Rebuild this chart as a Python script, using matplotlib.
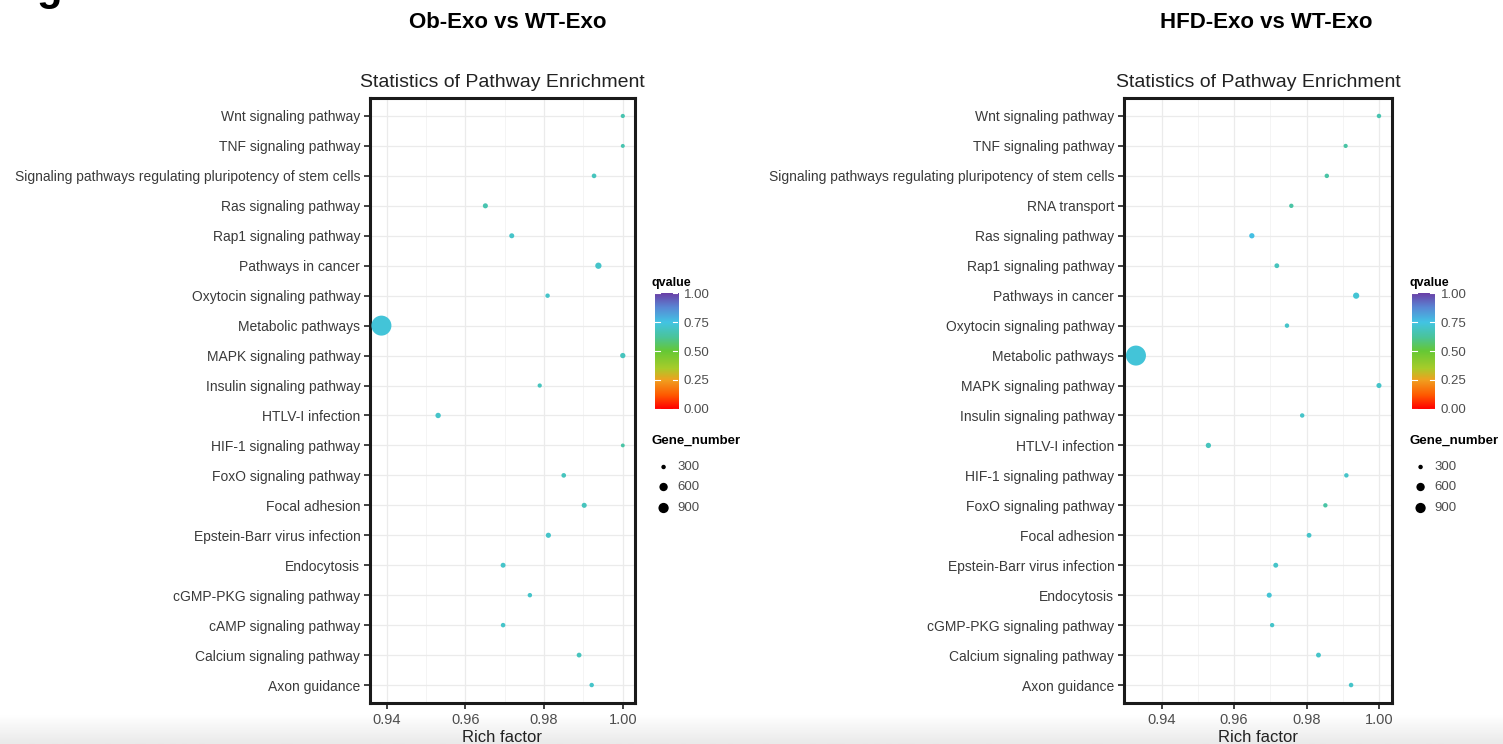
import numpy as np
import matplotlib
matplotlib.use("Agg")
import matplotlib.pyplot as plt
from matplotlib.colors import LinearSegmentedColormap, Normalize

plt.rcParams['font.family'] = ['Liberation Sans', 'DejaVu Sans']

# ---- data (top row first) ----
paths_ob = ["Wnt signaling pathway", "TNF signaling pathway",
            "Signaling pathways regulating pluripotency of stem cells",
            "Ras signaling pathway", "Rap1 signaling pathway", "Pathways in cancer",
            "Oxytocin signaling pathway", "Metabolic pathways", "MAPK signaling pathway",
            "Insulin signaling pathway", "HTLV-I infection", "HIF-1 signaling pathway",
            "FoxO signaling pathway", "Focal adhesion", "Epstein-Barr virus infection",
            "Endocytosis", "cGMP-PKG signaling pathway", "cAMP signaling pathway",
            "Calcium signaling pathway", "Axon guidance"]
rich_ob = [1.000, 1.000, 0.9927, 0.9651, 0.9718, 0.9938, 0.9809, 0.9387, 1.000, 0.9789,
           0.9531, 1.000, 0.9850, 0.9902, 0.9811, 0.9696, 0.9764, 0.9696, 0.9889, 0.9921]
genes_ob = [295, 292, 305, 320, 318, 390, 300, 4000, 330, 296,
            335, 291, 305, 320, 325, 315, 300, 302, 310, 300]
qval_ob = [0.66, 0.66, 0.68, 0.66, 0.70, 0.70, 0.70, 0.73, 0.68, 0.68,
           0.70, 0.64, 0.68, 0.68, 0.70, 0.70, 0.70, 0.70, 0.68, 0.70]

paths_hfd = ["Wnt signaling pathway", "TNF signaling pathway",
             "Signaling pathways regulating pluripotency of stem cells",
             "RNA transport", "Ras signaling pathway", "Rap1 signaling pathway",
             "Pathways in cancer", "Oxytocin signaling pathway", "Metabolic pathways",
             "MAPK signaling pathway", "Insulin signaling pathway", "HTLV-I infection",
             "HIF-1 signaling pathway", "FoxO signaling pathway", "Focal adhesion",
             "Epstein-Barr virus infection", "Endocytosis", "cGMP-PKG signaling pathway",
             "Calcium signaling pathway", "Axon guidance"]
rich_hfd = [1.000, 0.9908, 0.9856, 0.9758, 0.9649, 0.9718, 0.9937, 0.9746, 0.9329, 1.000,
            0.9788, 0.9529, 0.9910, 0.9852, 0.9807, 0.9715, 0.9697, 0.9705, 0.9833, 0.9923]
genes_hfd = [300, 295, 300, 298, 330, 310, 385, 300, 4000, 320,
             300, 330, 300, 298, 310, 315, 320, 298, 312, 302]
qval_hfd = [0.66, 0.64, 0.64, 0.64, 0.76, 0.68, 0.72, 0.70, 0.73, 0.70,
            0.70, 0.68, 0.70, 0.64, 0.70, 0.70, 0.72, 0.70, 0.70, 0.70]

size_breaks = [300, 600, 900]
q_ticks = [0.00, 0.25, 0.50, 0.75, 1.00]

# ---- styles ----
cmap = LinearSegmentedColormap.from_list("q", [
    (0.00, "#ff0000"), (0.12, "#ff5a00"), (0.25, "#f0a020"), (0.35, "#a8cc2a"),
    (0.50, "#66c835"), (0.62, "#4ac49a"), (0.75, "#42c4e4"), (0.88, "#5a86d4"),
    (1.00, "#6a3fa6")])
norm = Normalize(0, 1)
GMIN, GMAX = 290, 4000
DPI = 100


def sizes(g):
    g = np.asarray(g, float)
    d_px = 3.6 + 16.4 * np.sqrt(np.clip((g - GMIN) / (GMAX - GMIN), 0, 1))
    return (d_px * 72 / DPI) ** 2


fig = plt.figure(figsize=(15.03, 7.44), dpi=DPI)
W, H = 1503, 744


def fbox(x0, y0, x1, y1):
    return [x0 / W, 1 - y1 / H, (x1 - x0) / W, (y1 - y0) / H]


# light grey band at bottom
bg = fig.add_axes([0, 0, 1, 1], zorder=-10)
yy = np.linspace(0, 1, 300).reshape(-1, 1)
grad = np.where(yy > 0.962, 1 - (yy - 0.962) * 2.2, 1.0)
bg.imshow(grad, cmap="gray", vmin=0, vmax=1, aspect="auto", extent=[0, 1, 0, 1])
bg.set_axis_off()

fig.text(0.024, 1.0, "g", fontsize=30, weight="bold", va="baseline", ha="left")


def panel(box, xlim, paths, rich, genes, qv, title, supt_x, cbx):
    ax = fig.add_axes(fbox(*box))
    n = len(paths)
    y = np.arange(n)[::-1] + 1
    ax.scatter(rich, y, s=sizes(genes), c=qv, cmap=cmap, norm=norm,
               edgecolors="none", zorder=3)
    ax.set_xlim(*xlim)
    ax.set_ylim(0.4, n + 0.6)
    ax.set_yticks(y)
    ax.set_yticklabels(paths, fontsize=10, color="#3a3a3a")
    ax.set_xticks([0.94, 0.96, 0.98, 1.00])
    ax.set_xticklabels(["0.94", "0.96", "0.98", "1.00"], fontsize=10.5, color="#4d4d4d")
    ax.set_xticks([0.95, 0.97, 0.99], minor=True)
    ax.tick_params(axis="both", which="major", length=4, width=1.3, color="#333333", pad=3)
    ax.tick_params(axis="x", which="minor", length=0)
    ax.grid(True, which="major", color="#ebebeb", lw=0.9, zorder=0)
    ax.grid(True, which="minor", axis="x", color="#f4f4f4", lw=0.7, zorder=0)
    ax.set_axisbelow(True)
    for s in ax.spines.values():
        s.set_linewidth(2.2)
        s.set_color("#1a1a1a")
    ax.set_xlabel("Rich factor", fontsize=12, color="#222222", labelpad=2)
    ax.set_title("Statistics of Pathway Enrichment", fontsize=14, color="#222222", pad=8)
    fig.text(supt_x / W, 1 - 23 / H, title, fontsize=16, weight="bold",
             ha="center", va="center")

    # colourbar
    cax = fig.add_axes(fbox(cbx, 290, cbx + 23, 412))
    grad = np.linspace(0, 1, 256).reshape(-1, 1)
    cax.imshow(grad, cmap=cmap, norm=norm, aspect="auto", origin="lower",
               extent=[0, 1, 0, 1])
    cax.set_xticks([])
    cax.yaxis.tick_right()
    cax.set_yticks(q_ticks)
    cax.set_yticklabels([f"{t:.2f}" for t in q_ticks], fontsize=9.5, color="#4d4d4d")
    cax.tick_params(axis="y", length=0, pad=4)
    for t in q_ticks:
        cax.plot([0, 0.2], [t, t], color="white", lw=0.8)
        cax.plot([0.8, 1], [t, t], color="white", lw=0.8)
    cax.set_xlim(0, 1)
    cax.set_ylim(-0.03, 1.03)
    for s in cax.spines.values():
        s.set_visible(False)
    fig.text((cbx - 3) / W, 1 - 283 / H, "qvalue", fontsize=9, weight="bold",
             ha="left", va="center")

    # size legend
    fig.text((cbx - 3) / W, 1 - 441 / H, "Gene_number", fontsize=9.5, weight="bold",
             ha="left", va="center")
    lax = fig.add_axes(fbox(cbx, 456, cbx + 60, 518))
    ly = [467, 487, 508]
    lax.scatter([0] * len(size_breaks), ly, s=sizes(size_breaks), color="black",
                edgecolors="none")
    for yv, b in zip(ly, size_breaks):
        lax.text(1.6, yv, str(b), fontsize=9.5, color="#4d4d4d", va="center", ha="left")
    lax.set_xlim(-1.0, 6)
    lax.set_ylim(518, 456)
    lax.set_axis_off()
    return ax


panel((370, 98, 635, 703), (0.9358, 1.0031), paths_ob, rich_ob, genes_ob, qval_ob,
      "Ob-Exo vs WT-Exo", 508, 655)
panel((1124, 98, 1392, 703), (0.9296, 1.0036), paths_hfd, rich_hfd, genes_hfd, qval_hfd,
      "HFD-Exo vs WT-Exo", 1266, 1412)

fig.savefig("out.png", dpi=DPI)
